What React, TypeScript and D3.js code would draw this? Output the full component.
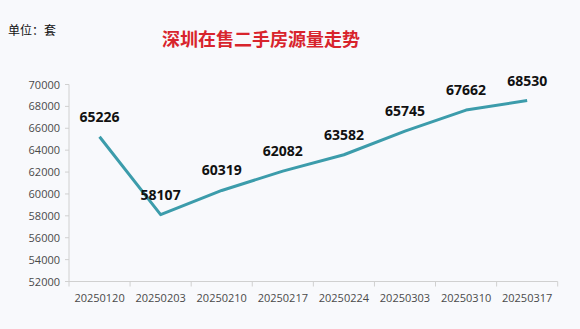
import React from "react";
import * as d3 from "d3";

const dates = ["20250120", "20250203", "20250210", "20250217", "20250224", "20250303", "20250310", "20250317"];
const listings = [65226, 58107, 60319, 62082, 63582, 65745, 67662, 68530];
const yTicks = [52000, 54000, 56000, 58000, 60000, 62000, 64000, 66000, 68000, 70000];

const W = 580;
const H = 329;
const left = 69;
const right = 557.7;
const top = 84.5;
const bottom = 281.5;

export default function App() {
  const x = d3.scaleBand<string>().domain(dates).range([left, right]);
  const y = d3.scaleLinear().domain([52000, 70000]).range([bottom, top]);
  const cx = (d: string) => (x(d) as number) + x.bandwidth() / 2;
  const line = d3
    .line<number>()
    .x((_, i) => cx(dates[i]))
    .y((v) => y(v));
  const font = "'Open Sans', 'Liberation Sans', sans-serif";
  const cjk = "'Noto Sans CJK SC', sans-serif";

  return (
    <svg width={W} height={H} style={{ position: "absolute", left: 0, top: 0, background: "#f8f9fc" }}>
      <rect width={W} height={H} fill="#f8f9fc" />
      <text x={8} y={35} fontFamily={cjk} fontSize={12} fill="#111">单位：套</text>
      <text x={261} y={46} textAnchor="middle" fontFamily={cjk} fontWeight="bold" fontSize={18} fill="#d8242c">
        深圳在售二手房源量走势
      </text>
      {/* y axis */}
      <line x1={left} x2={left} y1={top} y2={bottom} stroke="#d0d0d0" />
      {yTicks.map((t) => (
        <g key={t}>
          <line x1={left - 4} x2={left} y1={y(t)} y2={y(t)} stroke="#d0d0d0" />
          <text x={60} y={y(t) + 4} textAnchor="end" fontFamily={font} fontSize={11} fill="#4a4a4a">
            {t}
          </text>
        </g>
      ))}
      {/* x axis */}
      <line x1={left} x2={right} y1={bottom} y2={bottom} stroke="#d0d0d0" />
      {[...dates.map((d) => x(d) as number), right].map((p, i) => (
        <line key={i} x1={p} x2={p} y1={bottom} y2={bottom + 5} stroke="#d0d0d0" />
      ))}
      {dates.map((d) => (
        <text key={d} x={cx(d)} y={302} textAnchor="middle" fontFamily={font} fontSize={11} fill="#4a4a4a">
          {d}
        </text>
      ))}
      <path d={line(listings) ?? ""} fill="none" stroke="#3c9cab" strokeWidth={3} strokeLinejoin="round" />
      {listings.map((v, i) => (
        <text
          key={i}
          x={cx(dates[i])}
          y={y(v) - 15}
          textAnchor="middle"
          fontFamily={font}
          fontWeight="bold"
          fontSize={14}
          fill="#111"
        >
          {v}
        </text>
      ))}
    </svg>
  );
}
